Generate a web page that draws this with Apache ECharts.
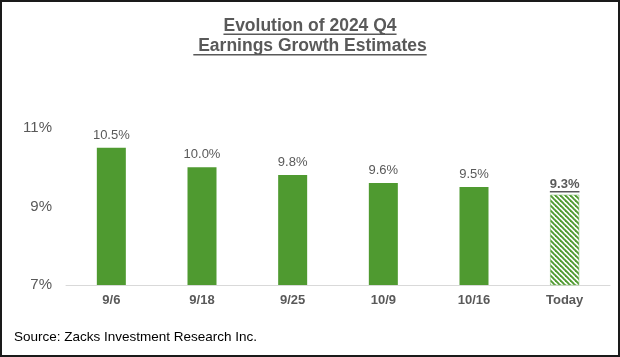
<!DOCTYPE html>
<html>
<head>
<meta charset="utf-8">
<script src="https://cdn.jsdelivr.net/npm/echarts@6/dist/echarts.min.js"></script>
<style>
html,body{margin:0;padding:0;background:#fff;}
#chart{width:620px;height:357px;}
</style>
</head>
<body>
<div id="chart"></div>
<script>
var categories = ['9/6', '9/18', '9/25', '10/9', '10/16', 'Today'];
var values = [10.5, 10.0, 9.8, 9.6, 9.5, 9.3];
var yTicks = [7, 9, 11];
var titleLines = ['Evolution of 2024 Q4', ' Earnings Growth Estimates'];
var sourceText = 'Source: Zacks Investment Research Inc.';

var GREEN = '#4f9a30';
var GRAY = '#595959';

function makeHatch() {
  var s = 5;
  var c = document.createElement('canvas');
  c.width = s; c.height = s;
  var ctx = c.getContext('2d');
  ctx.fillStyle = '#ffffff';
  ctx.fillRect(0, 0, s, s);
  ctx.strokeStyle = GREEN;
  ctx.lineWidth = 1.9;
  for (var k = -s; k <= s; k += s) {
    ctx.beginPath();
    ctx.moveTo(k - 1, -1);
    ctx.lineTo(k + s + 1, s + 1);
    ctx.stroke();
  }
  return c;
}

function textWidth(txt, font) {
  var c = document.createElement('canvas').getContext('2d');
  c.font = font;
  return c.measureText(txt).width;
}

var titleFont = 'bold 17.5px "Liberation Sans", Arial, sans-serif';
var w1 = textWidth(titleLines[0], titleFont);
var w2 = textWidth(titleLines[1], titleFont);

var lastIdx = values.length - 1;
var hatch = makeHatch();

var data = values.map(function (v, i) {
  if (i === lastIdx) {
    return {
      value: v,
      itemStyle: { color: { image: hatch, repeat: 'repeat' }, borderColor: '#7fb866', borderWidth: 0.5 },
      label: {
        distance: 2,
        formatter: '{b|' + v.toFixed(1) + '%}\n{u|}',
        rich: {
          b: { fontWeight: 'bold', fontSize: 13, color: GRAY, fontFamily: 'Liberation Sans, Arial, sans-serif', lineHeight: 13 },
          u: { width: textWidth(v.toFixed(1) + '%', 'bold 13px "Liberation Sans", Arial'), height: 1.5, backgroundColor: GRAY, lineHeight: 2 }
        }
      }
    };
  }
  return { value: v };
});

var chart = echarts.init(document.getElementById('chart'), null, { renderer: 'canvas' });
var option = {
  animation: false,
  backgroundColor: '#ffffff',
  grid: { left: 66, right: 10, top: 128, bottom: 72, containLabel: false },
  xAxis: {
    type: 'category',
    data: categories,
    axisLine: { show: true, lineStyle: { color: '#d9d9d9', width: 1 } },
    axisTick: { show: false },
    axisLabel: { color: GRAY, fontWeight: 'bold', fontSize: 13, margin: 9, fontFamily: 'Liberation Sans, Arial, sans-serif' }
  },
  yAxis: {
    type: 'value',
    min: yTicks[0],
    max: yTicks[yTicks.length - 1],
    interval: 2,
    axisLine: { show: false },
    axisTick: { show: false },
    splitLine: { show: false },
    axisLabel: { color: GRAY, fontSize: 15, margin: 14, formatter: '{value}%', fontFamily: 'Liberation Sans, Arial, sans-serif' }
  },
  series: [{
    type: 'bar',
    data: data,
    barWidth: 29,
    itemStyle: { color: GREEN },
    label: {
      show: true,
      position: 'top',
      distance: 6,
      color: GRAY,
      fontSize: 13,
      fontFamily: 'Liberation Sans, Arial, sans-serif',
      formatter: function (p) { return p.value.toFixed(1) + '%'; }
    }
  }],
  graphic: [
    { type: 'rect', shape: { x: 1, y: 1, width: 618, height: 355 }, style: { fill: 'none', stroke: '#1a1a1a', lineWidth: 2 }, silent: true },
    { type: 'text', x: 310, y: 17, style: { text: titleLines[0], font: titleFont, fill: GRAY, align: 'center', verticalAlign: 'top' } },
    { type: 'rect', shape: { x: 310 - w1 / 2, y: 33.5, width: w1, height: 1.4 }, style: { fill: GRAY } },
    { type: 'text', x: 310, y: 37, style: { text: titleLines[1], font: titleFont, fill: GRAY, align: 'center', verticalAlign: 'top' } },
    { type: 'rect', shape: { x: 310 - w2 / 2, y: 54, width: w2, height: 1.4 }, style: { fill: GRAY } },
    { type: 'text', x: 14, y: 337.5, style: { text: sourceText, font: '13.5px "Liberation Sans", Arial, sans-serif', fill: '#000000', align: 'left', verticalAlign: 'middle' } }
  ]
};
chart.setOption(option);
</script>
</body>
</html>
